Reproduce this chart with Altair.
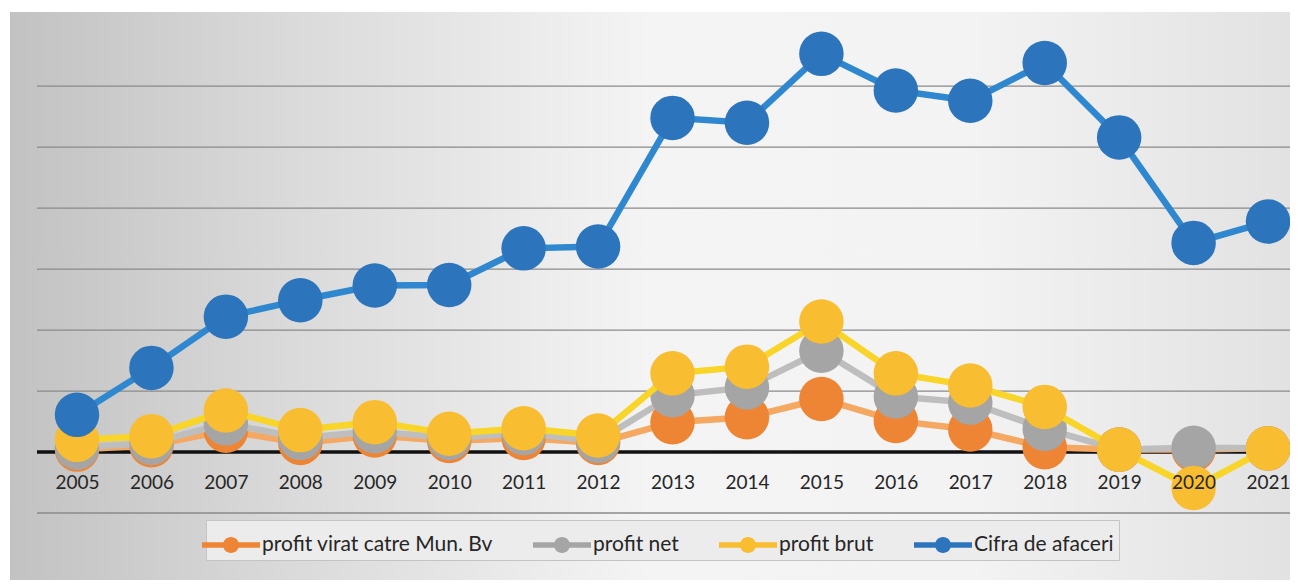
import altair as alt
import pandas as pd

years = [2005, 2006, 2007, 2008, 2009, 2010, 2011, 2012, 2013,
         2014, 2015, 2016, 2017, 2018, 2019, 2020, 2021]
cifra = [0.61, 1.38, 2.22, 2.49, 2.73, 2.74, 3.34, 3.37, 5.48,
         5.40, 6.53, 5.93, 5.76, 6.38, 5.16, 3.43, 3.78]
brut = [0.20, 0.26, 0.68, 0.36, 0.49, 0.30, 0.39, 0.27, 1.29,
        1.40, 2.14, 1.29, 1.09, 0.74, 0.04, -0.59, 0.06]
net = [0.07, 0.15, 0.47, 0.23, 0.34, 0.23, 0.31, 0.18, 0.93,
       1.06, 1.66, 0.91, 0.81, 0.38, 0.04, 0.07, 0.06]
virat = [0.04, 0.11, 0.35, 0.15, 0.27, 0.18, 0.23, 0.15, 0.49,
         0.57, 0.87, 0.51, 0.37, 0.08, 0.04, 0.04, 0.06]

series_names = ["profit virat catre Mun. Bv", "profit net", "profit brut", "Cifra de afaceri"]
dot_colors = ["#EE8535", "#A5A5A5", "#F8BD30", "#2C74BB"]
line_colors = ["#F4A862", "#BEBEBE", "#F8D528", "#2F88CF"]
series_values = [virat, net, brut, cifra]
grid_values = [-1, 0, 1, 2, 3, 4, 5, 6]

rows = []
for name, vals in zip(series_names, series_values):
    for yr, v in zip(years, vals):
        rows.append({"year": yr, "series": name, "value": v})
df = pd.DataFrame(rows)
grid_df = pd.DataFrame({"g": grid_values})
zero_df = pd.DataFrame({"g": [0]})

W, H = 1250, 500
x_scale = alt.Scale(domain=[2004.503, 2021.295], nice=False, zero=False)
y_scale = alt.Scale(domain=[-1, 7.2], nice=False, zero=False)
color_scale = alt.Scale(domain=series_names, range=dot_colors)

x_axis = alt.Axis(values=years, format="d", labelFont="Lato", labelFontSize=19,
                  labelColor="#262626", ticks=False, domain=False, grid=False,
                  labelPadding=21, offset=-61, zindex=1, title=None,
                  labelFlush=False, labelOverlap=False)

legend_symbol = ("M-1.45,-0.14H1.45V0.14H-1.45Z "
                 "M0.4,0A0.4,0.4 0 1,1 -0.4,0A0.4,0.4 0 1,1 0.4,0Z")

bg = alt.Chart(alt.Data(values=[{}])).mark_rect(
    color=alt.LinearGradient(
        gradient="linear", x1=0, x2=1, y1=0, y2=0,
        stops=[alt.GradientStop(color="#c2c2c2", offset=0),
               alt.GradientStop(color="#dadada", offset=0.22),
               alt.GradientStop(color="#f4f4f4", offset=0.5),
               alt.GradientStop(color="#f3f3f3", offset=0.75),
               alt.GradientStop(color="#e2e2e2", offset=1)])
).encode(x=alt.value(-30), x2=alt.value(W), y=alt.value(-1), y2=alt.value(H + 68))

grid = alt.Chart(grid_df).mark_rule(color="#8a8a8a", strokeWidth=1.3).encode(
    y=alt.Y("g:Q", scale=y_scale, axis=None),
    x=alt.value(-3), x2=alt.value(W))

zero = alt.Chart(zero_df).mark_rule(color="#111111", strokeWidth=3.5).encode(
    y=alt.Y("g:Q", scale=y_scale, axis=None),
    x=alt.value(-3), x2=alt.value(W))

layers = [bg, grid, zero]
for name, lc in zip(series_names, line_colors):
    sub = df[df["series"] == name]
    line = alt.Chart(sub).mark_line(strokeWidth=6.5, color=lc).encode(
        x=alt.X("year:Q", scale=x_scale, axis=x_axis),
        y=alt.Y("value:Q", scale=y_scale, axis=None))
    pts = alt.Chart(sub).mark_circle(size=1980, opacity=1).encode(
        x=alt.X("year:Q", scale=x_scale, axis=x_axis),
        y=alt.Y("value:Q", scale=y_scale, axis=None),
        color=alt.Color("series:N", scale=color_scale, legend=alt.Legend(
            orient="none", legendX=166, legendY=507, direction="horizontal",
            title=None, symbolType=legend_symbol, symbolSize=1600,
            symbolStrokeWidth=0, symbolOpacity=1,
            labelFont="Lato", labelFontSize=21, labelColor="#262626",
            labelOffset=11, columnPadding=40, padding=5,
            fillColor="#ececec", strokeColor="#c4c4c4", labelLimit=400)))
    layers += [line, pts]

chart = alt.layer(*layers).properties(
    width=W, height=H,
    autosize=alt.AutoSizeParams(type="none"),
    padding={"left": 32, "top": 5, "right": 0, "bottom": 67},
    background="white"
).configure_view(stroke=None)

chart.save("out.html", embed_options={"renderer": "svg", "actions": False})
